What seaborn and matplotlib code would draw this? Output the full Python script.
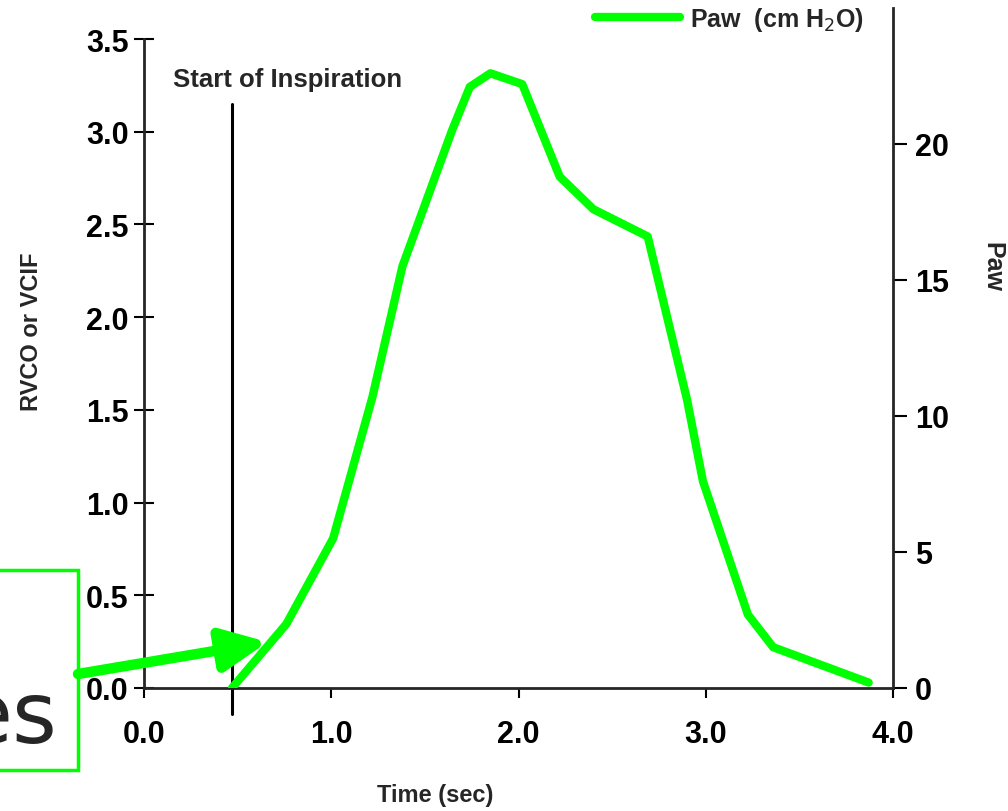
import numpy as np
import pandas as pd
import matplotlib.pyplot as plt
from matplotlib.patches import Rectangle
import seaborn as sns

# Paw trace
time_sec = [0.47, 0.76, 1.01, 1.22, 1.38, 1.645, 1.74, 1.85, 2.02, 2.22,
            2.40, 2.69, 2.90, 2.985, 3.225, 3.36, 3.87]
paw = [0.0, 2.35, 5.5, 10.7, 15.5, 20.5, 22.1, 22.6, 22.2, 18.8,
       17.6, 16.6, 10.6, 7.6, 2.7, 1.5, 0.2]

start_insp = 0.47
start_line_top = 3.15
left_ticks = [0.0, 0.5, 1.0, 1.5, 2.0, 2.5, 3.0, 3.5]
right_ticks = [0, 5, 10, 15, 20]
x_ticks = [0.0, 1.0, 2.0, 3.0, 4.0]

df = pd.DataFrame({"Time": time_sec, "Paw": paw})

sns.set_style("ticks")
plt.rcParams["font.family"] = ["Liberation Sans", "DejaVu Sans"]

green = "#00ff00"
W, H = 1008, 812
fig = plt.figure(figsize=(W / 100, H / 100), dpi=100)
ax = fig.add_axes([144 / W, 1 - 689 / H, (893 - 144) / W, (689 - 40) / H])
ax2 = ax.twinx()

ax.set_xlim(0, 4.0)
ax.set_ylim(0, 3.5)
ax2.set_ylim(0, 23.86)

sns.lineplot(data=df, x="Time", y="Paw", ax=ax2, color=green, lw=6,
             label="Paw  (cm H$_2$O)", legend=False)

# start of inspiration marker
ax.plot([start_insp, start_insp], [-0.14, start_line_top], color="black",
        lw=2.2, clip_on=False)
ax.text(0.765, 3.285, "Start of Inspiration", ha="center", va="center",
        fontsize=18.5, fontweight="bold")

for a in (ax, ax2):
    a.spines["top"].set_visible(False)
    a.spines["left"].set_linewidth(2)
    a.spines["bottom"].set_linewidth(2)
    a.spines["right"].set_linewidth(2)
ax.spines["right"].set_visible(False)
ax2.spines["left"].set_visible(False)
ax2.spines["bottom"].set_visible(False)
ax2.spines["right"].set_bounds(0, 25.0)

ax.set_xticks(x_ticks)
ax.set_xticklabels([f"{v:.1f}" for v in x_ticks], fontweight="bold")
ax.set_yticks(left_ticks)
ax.set_yticklabels([f"{v:.1f}" for v in left_ticks], fontweight="bold")
ax2.set_yticks(right_ticks)
ax2.set_yticklabels([str(v) for v in right_ticks], fontweight="bold")

ax.tick_params(axis="y", direction="inout", length=14, width=1.5,
               labelsize=22, pad=4, colors="black")
ax.tick_params(axis="x", direction="out", length=7, width=1.5,
               labelsize=22, pad=15, colors="black")
ax2.tick_params(axis="y", direction="out", length=10, width=1.5,
                labelsize=22, pad=6, colors="black")

ax.set_xlabel("Time (sec)", fontsize=17, fontweight="bold")
ax.xaxis.set_label_coords(0.389, -0.146)
ax.set_ylabel("RVCO or VCIF", fontsize=17, fontweight="bold")
ax.yaxis.set_label_coords(-0.135, 0.55)
ax2.set_ylabel("Paw", fontsize=18, fontweight="bold", rotation=270,
               va="center")
ax2.yaxis.set_label_coords(1.133, 0.65)

fig.legend(handles=ax2.get_lines()[:1], labels=["Paw  (cm H$_2$O)"],
           loc="center left", bbox_to_anchor=(595 / W, 1 - 20 / H),
           bbox_transform=fig.transFigure, frameon=False,
           prop={"size": 18, "weight": "bold"},
           handlelength=3.4, handletextpad=0.4, borderpad=0, borderaxespad=0)

# overlay box and arrow
fig.add_artist(Rectangle((-5 / W, 1 - 771 / H), 83 / W, 200 / H,
                         transform=fig.transFigure, fill=False,
                         edgecolor=green, lw=2.5))
fig.text(57 / W, 1 - 743 / H, "es", ha="right", va="baseline", fontsize=62,
         family="DejaVu Sans")
ax.annotate("", xy=(0.66, 0.248), xycoords="data",
            xytext=(78 / W, 1 - 675 / H), textcoords="figure fraction",
            arrowprops=dict(arrowstyle="-|>,head_length=1.0,head_width=0.47",
                            mutation_scale=27, color=green, lw=7.5,
                            shrinkA=0, shrinkB=0),
            annotation_clip=False)

fig.savefig("out.png", dpi=100)
